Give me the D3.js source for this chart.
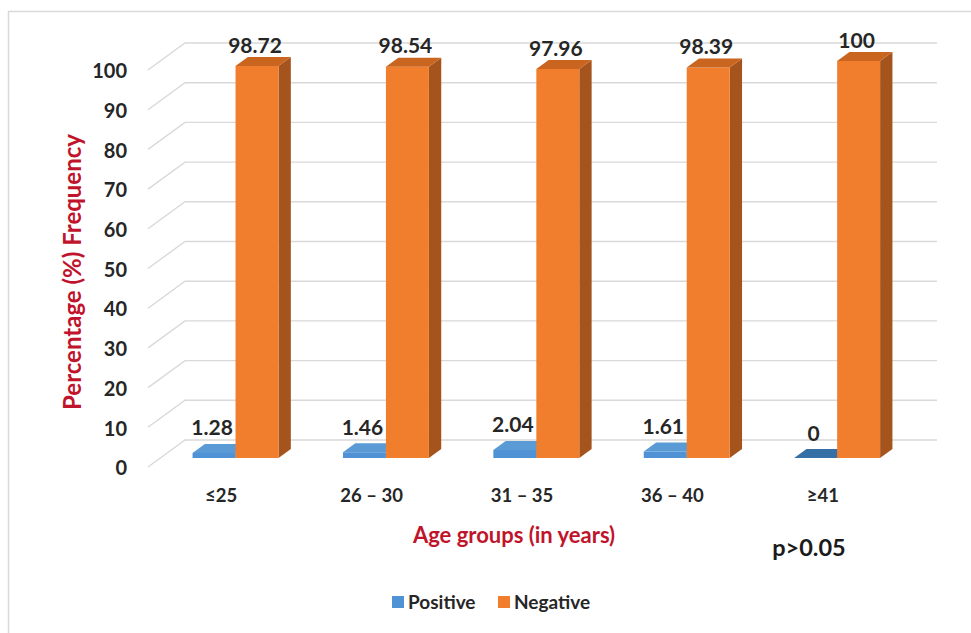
<!DOCTYPE html>
<html>
<head>
<meta charset="utf-8">
<script src="https://cdn.jsdelivr.net/npm/d3@7"></script>
<style>
  html, body { margin: 0; padding: 0; background: #fff; }
  svg { display: block; }
  text { font-family: Lato, "Open Sans", sans-serif; }
</style>
</head>
<body>
<svg id="chart" width="971" height="633"></svg>
<script>
// ---- data ----
const categories = ["\u226425", "26 \u2013 30", "31 \u2013 35", "36 \u2013 40", "\u226541"];
const seriesNames = ["Positive", "Negative"];
const positiveValues = [1.28, 1.46, 2.04, 1.61, 0];
const negativeValues = [98.72, 98.54, 97.96, 98.39, 100];
const valueLabels = [["1.28", "1.46", "2.04", "1.61", "0"], ["98.72", "98.54", "97.96", "98.39", "100"]];
const yTicks = [0, 10, 20, 30, 40, 50, 60, 70, 80, 90, 100];
const yTitle = "Percentage (%) Frequency";
const xTitle = "Age groups (in years)";
const note = "p>0.05";

const seriesValues = [positiveValues, negativeValues];

// ---- styles ----
const colors = {
  Positive: { front: "#4f92d6", top: "#5b9bd5", side: "#356fa6" },
  Negative: { front: "#f07e2d", top: "#c9651f", side: "#a5541e" }
};
const labelOffset = { Positive: 16, Negative: 12 };

const svg = d3.select("#chart");

// border
svg.append("rect")
  .attr("x", 8.5).attr("y", 11.5)
  .attr("width", 975).attr("height", 640)
  .attr("fill", "none").attr("stroke", "#d9d9d9").attr("stroke-width", 1.5);

// ---- 3D projection ----
const DX = 37, DY = 27;         // depth offset of back wall
const y = d3.scaleLinear().domain([0, 100]).range([467, 70]);
const xBand = d3.scaleBand().domain(categories).range([148, 900]).padding(0);
const xSub = d3.scaleBand().domain(seriesNames).range([0, xBand.bandwidth()])
  .paddingInner(0).paddingOuter(0.75);
const z0 = 1 / 3, z1 = 2 / 3;
function P(xf, v, z) { return [xf + z * DX, y(v) - z * DY]; }
const xLeft = xBand.range()[0], xRight = xBand.range()[1];

// gridlines (side wall diagonal + back wall horizontal)
const gGrid = svg.append("g");
yTicks.forEach(t => {
  const a = P(xLeft, t, 0), b = P(xLeft, t, 1), c = P(xRight, t, 1);
  gGrid.append("path")
    .attr("d", d3.line()([a, b, c]))
    .attr("fill", "none").attr("stroke", "#d9d9d9").attr("stroke-width", 1.4);
});

// y tick labels
svg.append("g").selectAll("text").data(yTicks).join("text")
  .attr("x", 127).attr("y", d => y(d) + 1)
  .attr("dy", "0.36em")
  .attr("text-anchor", "end")
  .attr("font-size", 20).attr("font-weight", 700).attr("fill", "#262626")
  .text(d => d);

// bars
const gBars = svg.append("g");
categories.forEach((cat, ci) => {
  seriesNames.forEach((s, si) => {
    const v = seriesValues[si][ci];
    const x0 = xBand(cat) + xSub(s), w = xSub.bandwidth();
    const col = colors[s];
    const g = gBars.append("g");
    if (v > 0) {
      g.append("path").attr("d", d3.line()([P(x0 + w, 0, z0), P(x0 + w, v, z0), P(x0 + w, v, z1), P(x0 + w, 0, z1)]) + "Z")
        .attr("fill", col.side);
      g.append("path").attr("d", d3.line()([P(x0, 0, z0), P(x0 + w, 0, z0), P(x0 + w, v, z0), P(x0, v, z0)]) + "Z")
        .attr("fill", col.front);
    }
    g.append("path").attr("d", d3.line()([P(x0, v, z0), P(x0 + w, v, z0), P(x0 + w, v, z1), P(x0, v, z1)]) + "Z")
      .attr("fill", v > 0 ? col.top : col.side);
  });
});

// data labels
const gLab = svg.append("g");
categories.forEach((cat, ci) => {
  seriesNames.forEach((s, si) => {
    const v = seriesValues[si][ci];
    const x0 = xBand(cat) + xSub(s), w = xSub.bandwidth();
    const p = P(x0 + w / 2, v, z1);
    const pf = P(x0 + w / 2, v, z0);
    gLab.append("text")
      .attr("x", pf[0] - 2).attr("y", p[1] - labelOffset[s])
      .attr("dy", "0.36em")
      .attr("text-anchor", "middle")
      .attr("font-size", 21).attr("font-weight", 700).attr("fill", "#262626")
      .text(valueLabels[si][ci]);
  });
});

// category labels
svg.append("g").selectAll("text").data(categories).join("text")
  .attr("x", d => xBand(d) + xBand.bandwidth() / 2 - 2)
  .attr("y", 495).attr("dy", "0.36em")
  .attr("text-anchor", "middle")
  .attr("font-size", 18.5).attr("font-weight", 700).attr("fill", "#262626")
  .text(d => d);

// axis titles
svg.append("text")
  .attr("transform", "translate(72,272) rotate(-90)")
  .attr("dy", "0.36em").attr("text-anchor", "middle")
  .attr("font-size", 24).attr("font-weight", 700).attr("fill", "#c0142c")
  .text(yTitle);

svg.append("text")
  .attr("x", 514).attr("y", 535).attr("dy", "0.36em")
  .attr("text-anchor", "middle")
  .attr("font-size", 22).attr("font-weight", 700).attr("fill", "#c0142c")
  .text(xTitle);

svg.append("text")
  .attr("x", 809).attr("y", 548).attr("dy", "0.36em")
  .attr("text-anchor", "middle")
  .attr("font-size", 23.5).attr("font-weight", 700).attr("fill", "#1a1a1a")
  .text(note);

// legend
const legendX = [392, 498];
const gLeg = svg.append("g");
seriesNames.forEach((s, i) => {
  gLeg.append("rect").attr("x", legendX[i]).attr("y", 596).attr("width", 12).attr("height", 12)
    .attr("fill", colors[s].front);
  gLeg.append("text").attr("x", legendX[i] + 16).attr("y", 602).attr("dy", "0.36em")
    .attr("font-size", 19).attr("font-weight", 700).attr("fill", "#262626")
    .text(s);
});
</script>
</body>
</html>
